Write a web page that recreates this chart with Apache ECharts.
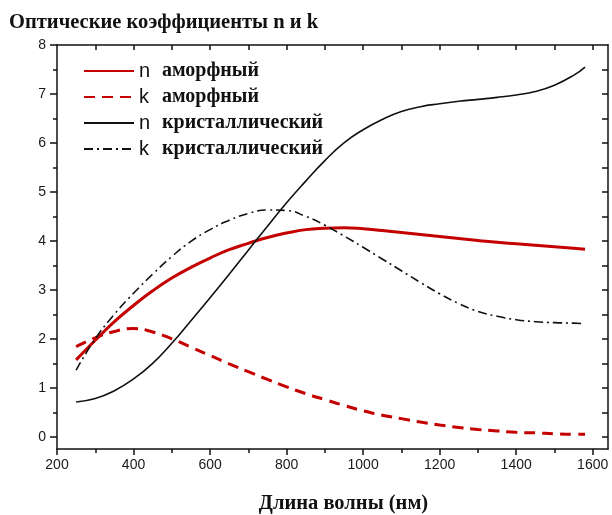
<!DOCTYPE html>
<html>
<head>
<meta charset="utf-8">
<script src="https://cdn.jsdelivr.net/npm/echarts@6/dist/echarts.min.js"></script>
<style>
  html, body { margin: 0; padding: 0; background: #fff; }
  #chart { width: 612px; height: 515px; }
</style>
</head>
<body>
<div id="chart"></div>
<script>
// длина волны, нм
var wavelength = [250, 300, 350, 400, 450, 500, 550, 600, 650, 700, 750, 800, 850, 900, 950,
  1000, 1050, 1100, 1150, 1200, 1250, 1300, 1350, 1400, 1450, 1500, 1550, 1580];
// n аморфный
var nAmorph = [1.57, 1.97, 2.35, 2.68, 2.98, 3.24, 3.46, 3.65, 3.82, 3.95, 4.07, 4.16, 4.23, 4.26, 4.27,
  4.25, 4.21, 4.17, 4.13, 4.09, 4.05, 4.01, 3.97, 3.94, 3.91, 3.88, 3.85, 3.83];
// k аморфный
var kAmorph = [1.84, 2.02, 2.15, 2.21, 2.14, 2.00, 1.83, 1.66, 1.49, 1.33, 1.17, 1.02, 0.88, 0.76, 0.64,
  0.53, 0.44, 0.37, 0.30, 0.24, 0.19, 0.15, 0.12, 0.09, 0.08, 0.06, 0.05, 0.05];
// n кристаллический
var nCryst = [0.71, 0.78, 0.94, 1.18, 1.50, 1.91, 2.37, 2.84, 3.32, 3.81, 4.30, 4.78, 5.22, 5.64, 6.00,
  6.27, 6.48, 6.64, 6.74, 6.80, 6.85, 6.89, 6.93, 6.98, 7.05, 7.18, 7.38, 7.55];
// k кристаллический
var kCryst = [1.36, 2.00, 2.50, 2.93, 3.32, 3.68, 3.99, 4.23, 4.42, 4.56, 4.63, 4.62, 4.50, 4.32, 4.10,
  3.87, 3.63, 3.39, 3.15, 2.92, 2.72, 2.56, 2.46, 2.39, 2.35, 2.33, 2.32, 2.31];

var xMajor = [200, 400, 600, 800, 1000, 1200, 1400, 1600];
var xMinor = [300, 500, 700, 900, 1100, 1300, 1500];
var xTop = [300, 400, 500, 600, 700, 800, 900, 1000, 1100, 1200, 1300, 1400, 1500, 1600];
var yMajor = [0, 1, 2, 3, 4, 5, 6, 7, 8];
var yMinor = [0.5, 1.5, 2.5, 3.5, 4.5, 5.5, 6.5, 7.5];
var yRight = [0, 0.5, 1, 1.5, 2, 2.5, 3, 3.5, 4, 4.5, 5, 5.5, 6, 6.5, 7, 7.5];

var seriesNames = ['n аморфный', 'k аморфный', 'n кристаллический', 'k кристаллический'];

function pairs(ys) {
  var out = [];
  for (var i = 0; i < wavelength.length; i++) {
    out.push([wavelength[i], ys[i]]);
  }
  return out;
}

var red = '#c40000';
var axisLineStyle = { color: '#111', width: 1.5 };

var dom = echarts.init(document.getElementById('chart'));
var option = {
  backgroundColor: '#fff',
  animation: false,
  title: {
    text: 'Оптические коэффициенты n и k',
    left: 9,
    top: 12,
    padding: 0,
    textStyle: {
      fontFamily: 'Liberation Serif',
      fontWeight: 'bold',
      fontSize: 20.5,
      color: '#111'
    }
  },
  grid: {
    left: 57,
    right: 4,
    top: 45,
    bottom: 66,
    outerBoundsMode: 'none'
  },
  legend: {
    orient: 'vertical',
    left: 83,
    top: 61,
    padding: 0,
    itemWidth: 50,
    itemHeight: 14,
    itemGap: 6,
    itemStyle: { opacity: 0 },
    data: seriesNames,
    formatter: function (name) {
      return '{a|' + name.charAt(0) + '}{b|' + name.slice(2) + '}';
    },
    textStyle: {
      rich: {
        a: { fontFamily: 'Liberation Sans', fontSize: 20, color: '#111', width: 23, lineHeight: 21 },
        b: { fontFamily: 'Liberation Serif', fontWeight: 'bold', fontSize: 20, color: '#111', lineHeight: 21 }
      }
    }
  },
  xAxis: [
    {
      type: 'value',
      position: 'bottom',
      min: 200,
      max: 1640,
      name: 'Длина волны (нм)',
      nameLocation: 'middle',
      nameGap: 44,
      nameTextStyle: {
        fontFamily: 'Liberation Serif',
        fontWeight: 'bold',
        fontSize: 20.5,
        color: '#111',
        padding: [0, 0, 0, 22]
      },
      axisLine: { show: true, onZero: false, lineStyle: axisLineStyle },
      axisTick: { show: true, length: 6, customValues: xMajor, lineStyle: axisLineStyle },
      axisLabel: {
        show: true,
        margin: 9,
        customValues: xMajor,
        formatter: function (v) { return String(v); },
        fontFamily: 'Liberation Sans',
        fontSize: 14,
        color: '#1a1a1a'
      },
      splitLine: { show: false }
    },
    {
      type: 'value',
      position: 'bottom',
      min: 200,
      max: 1640,
      axisLine: { show: false, onZero: false },
      axisTick: { show: true, length: 4, customValues: xMinor, lineStyle: axisLineStyle },
      axisLabel: { show: false },
      splitLine: { show: false }
    },
    {
      type: 'value',
      position: 'top',
      min: 200,
      max: 1640,
      axisLine: { show: true, onZero: false, lineStyle: axisLineStyle },
      axisTick: { show: true, inside: true, length: 5, customValues: xTop, lineStyle: axisLineStyle },
      axisLabel: { show: false },
      splitLine: { show: false }
    }
  ],
  yAxis: [
    {
      type: 'value',
      position: 'left',
      min: -0.25,
      max: 8,
      axisLine: { show: true, onZero: false, lineStyle: axisLineStyle },
      axisTick: { show: true, length: 7, customValues: yMajor, lineStyle: axisLineStyle },
      axisLabel: {
        show: true,
        margin: 11,
        customValues: yMajor,
        fontFamily: 'Liberation Sans',
        fontSize: 14,
        color: '#1a1a1a'
      },
      splitLine: { show: false }
    },
    {
      type: 'value',
      position: 'left',
      min: -0.25,
      max: 8,
      axisLine: { show: false, onZero: false },
      axisTick: { show: true, length: 4, customValues: yMinor, lineStyle: axisLineStyle },
      axisLabel: { show: false },
      splitLine: { show: false }
    },
    {
      type: 'value',
      position: 'right',
      min: -0.25,
      max: 8,
      axisLine: { show: true, onZero: false, lineStyle: axisLineStyle },
      axisTick: { show: true, inside: true, length: 6, customValues: yRight, lineStyle: axisLineStyle },
      axisLabel: { show: false },
      splitLine: { show: false }
    }
  ],
  series: [
    {
      name: seriesNames[0],
      type: 'line',
      xAxisIndex: 0,
      yAxisIndex: 0,
      data: pairs(nAmorph),
      smooth: true,
      symbol: 'none',
      itemStyle: { color: red },
      lineStyle: { color: red, width: 3 }
    },
    {
      name: seriesNames[1],
      type: 'line',
      xAxisIndex: 0,
      yAxisIndex: 0,
      data: pairs(kAmorph),
      smooth: true,
      symbol: 'none',
      itemStyle: { color: red },
      lineStyle: { color: red, width: 3, type: [11, 7] }
    },
    {
      name: seriesNames[2],
      type: 'line',
      xAxisIndex: 0,
      yAxisIndex: 0,
      data: pairs(nCryst),
      smooth: true,
      symbol: 'none',
      itemStyle: { color: '#111' },
      lineStyle: { color: '#111', width: 1.6 }
    },
    {
      name: seriesNames[3],
      type: 'line',
      xAxisIndex: 0,
      yAxisIndex: 0,
      data: pairs(kCryst),
      smooth: true,
      symbol: 'none',
      itemStyle: { color: '#111' },
      lineStyle: { color: '#111', width: 1.6, type: [9, 4, 2, 4] }
    }
  ]
};
dom.setOption(option);
window.addEventListener('resize', function () { dom.resize(); });
</script>
</body>
</html>
